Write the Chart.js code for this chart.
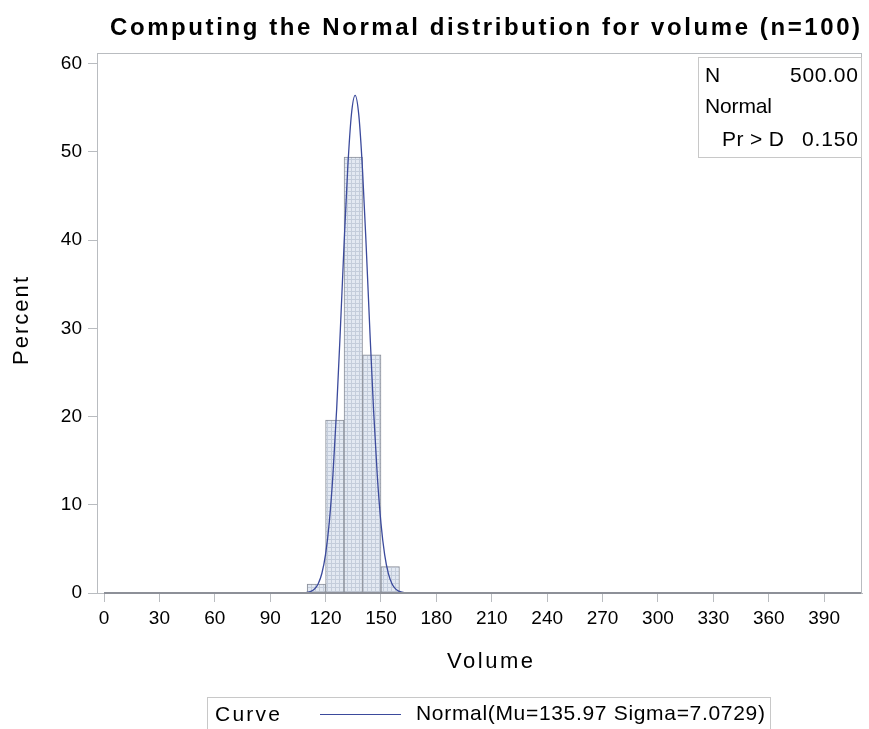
<!DOCTYPE html>
<html><head><meta charset="utf-8">
<script src="https://cdn.jsdelivr.net/npm/chart.js@4"></script>
<style>html,body{margin:0;padding:0;background:#fff}#wrap{width:869px;height:729px;position:relative}</style>
</head><body><div id="wrap"><canvas id="c" width="869" height="729"></canvas></div>
<script>
// ---- data ----
const binMidpoints = [115, 125, 135, 145, 155];
const binPercents = [1.0, 19.6, 49.4, 27.0, 3.0];
const curveX = [104, 106, 108, 110, 112, 114, 116, 118, 120, 122, 124, 126, 128, 130, 132, 134, 136, 138, 140, 142, 144, 146, 148, 150, 152, 154, 156, 158, 160, 162, 164, 166, 170];
const curveY = [0, 0.005, 0.02, 0.07, 0.18, 0.45, 1.05, 2.24, 4.41, 8.02, 13.47, 20.88, 29.89, 39.50, 48.18, 54.26, 56.40, 54.13, 47.95, 39.21, 29.61, 20.64, 13.28, 7.88, 4.32, 2.19, 1.02, 0.44, 0.18, 0.06, 0.02, 0.005, 0];
const zeroBinsX = [0, 410];
const xTickValues = [0, 30, 60, 90, 120, 150, 180, 210, 240, 270, 300, 330, 360, 390];
const yTickValues = [0, 10, 20, 30, 40, 50, 60];
const titleText = 'Computing the Normal distribution for volume (n=100)';
const xTitle = 'Volume';
const yTitle = 'Percent';
const insetLabels = ['N', 'Normal', 'Pr > D'];
const insetValues = ['500.00', '', '0.150'];
const legendTitle = 'Curve';
const legendLabel = 'Normal(Mu=135.97 Sigma=7.0729)';

// ---- bar fill pattern ----
const pc = document.createElement('canvas');
pc.width = 4; pc.height = 4;
const px = pc.getContext('2d');
px.fillStyle = '#e3e9f2'; px.fillRect(0, 0, 4, 4);
px.fillStyle = '#c4cddb'; px.fillRect(3, 0, 1, 4); px.fillRect(0, 3, 4, 1);
const ctx0 = document.getElementById('c').getContext('2d');
const barPattern = ctx0.createPattern(pc, 'repeat');

const FONT = '"Liberation Sans", Arial, sans-serif';

// draw text spread with letter spacing to a given width
function spacedText(c, text, x, y, font, width, align) {
  c.font = font;
  const hasLS = ('letterSpacing' in c);
  if (hasLS) c.letterSpacing = '0px';
  const w0 = c.measureText(text).width;
  let ls = 0;
  if (hasLS && width && text.length > 1) {
    ls = (width - w0) / (text.length - 1);
    c.letterSpacing = ls.toFixed(2) + 'px';
  }
  const total = w0 + ls * (text.length - 1);
  let left = x;
  if (align === 'center') left = x - total / 2;
  else if (align === 'right') left = x - total;
  c.textAlign = 'left';
  c.fillText(text, left, y);
  if (hasLS) c.letterSpacing = '0px';
}

const overlay = {
  id: 'overlay',
  beforeDatasetsDraw(chart) {
    const c = chart.ctx, a = chart.chartArea;
    c.save();
    c.strokeStyle = '#b9bcc0'; c.lineWidth = 1;
    c.strokeRect(a.left + 0.5, a.top + 0.5, a.right - a.left - 1, a.bottom - a.top);
    c.restore();
  },
  afterDraw(chart) {
    const c = chart.ctx;
    c.save();
    c.fillStyle = '#000';
    c.textBaseline = 'middle';
    // title
    spacedText(c, titleText, 485, 28, 'bold 24px ' + FONT, 750, 'center');
    // axis titles
    spacedText(c, xTitle, 490, 662, '22px ' + FONT, 86, 'center');
    c.save();
    c.translate(22, 321); c.rotate(-Math.PI / 2);
    spacedText(c, yTitle, 0, 0, '22px ' + FONT, 88, 'center');
    c.restore();
    // inset box
    c.strokeStyle = '#c8c8c8'; c.lineWidth = 1;
    c.fillStyle = '#fff';
    c.fillRect(698, 57, 164, 101);
    c.strokeRect(698.5, 57.5, 163, 100);
    c.fillStyle = '#000';
    const rowsY = [76, 107, 140];
    const labX = [705, 705, 722];
    const labW = [0, 67, 62];
    const valW = [68, 0, 56];
    insetLabels.forEach((t, i) => {
      spacedText(c, t, labX[i], rowsY[i], '21px ' + FONT, labW[i], 'left');
      if (insetValues[i]) spacedText(c, insetValues[i], 858, rowsY[i], '21px ' + FONT, valW[i], 'right');
    });
    // legend
    c.strokeStyle = '#c8c8c8';
    c.strokeRect(207.5, 697.5, 563, 40);
    spacedText(c, legendTitle, 215, 715, '21px ' + FONT, 65, 'left');
    c.strokeStyle = '#3b4a9c'; c.lineWidth = 1.2;
    c.beginPath(); c.moveTo(320, 714.5); c.lineTo(401, 714.5); c.stroke();
    spacedText(c, legendLabel, 416, 714, '21px ' + FONT, 349, 'left');
    c.restore();
  }
};

new Chart(ctx0, {
  type: 'bar',
  data: {
    datasets: [
      {
        type: 'line', order: 1,
        data: curveX.map((x, i) => ({x: x, y: curveY[i]})),
        borderColor: '#3b4a9c', borderWidth: 1.3, pointRadius: 0,
        cubicInterpolationMode: 'monotone', fill: false
      },
      {
        type: 'line', order: 0, clip: false,
        data: zeroBinsX.map(x => ({x: x, y: 0})),
        borderColor: '#8d9098', borderWidth: 2, pointRadius: 0, fill: false
      },
      {
        type: 'bar', order: 2,
        data: binMidpoints.map((x, i) => ({x: x, y: binPercents[i]})),
        backgroundColor: barPattern, borderColor: '#8a8f99', borderWidth: 1,
        barPercentage: 1, categoryPercentage: 1, borderSkipped: false
      }
    ]
  },
  options: {
    responsive: false, animation: false, events: [],
    layout: {padding: {left: 0, right: 7, top: 53, bottom: 0}},
    plugins: {legend: {display: false}, title: {display: false}, tooltip: {enabled: false}},
    scales: {
      x: {
        type: 'linear', offset: false, min: -3.8, max: 410.5,
        afterBuildTicks: s => { s.ticks = xTickValues.map(v => ({value: v})); },
        afterFit: s => { s.height = 136; },
        grid: {display: true, drawOnChartArea: false, offset: false, tickLength: 9, color: '#b9bcc0', tickColor: '#b9bcc0'},
        border: {color: '#b9bcc0', width: 1},
        ticks: {font: {size: 19, family: FONT}, color: '#000', padding: 5, maxRotation: 0, autoSkip: false}
      },
      y: {
        min: 0, max: 61.2,
        afterBuildTicks: s => { s.ticks = yTickValues.map(v => ({value: v})); },
        afterFit: s => { s.width = 97; },
        grid: {display: true, drawOnChartArea: false, tickLength: 9, color: '#b9bcc0', tickColor: '#b9bcc0'},
        border: {color: '#b9bcc0', width: 1},
        ticks: {font: {size: 19, family: FONT}, color: '#000', padding: 6}
      }
    }
  },
  plugins: [overlay]
});
</script></body></html>
